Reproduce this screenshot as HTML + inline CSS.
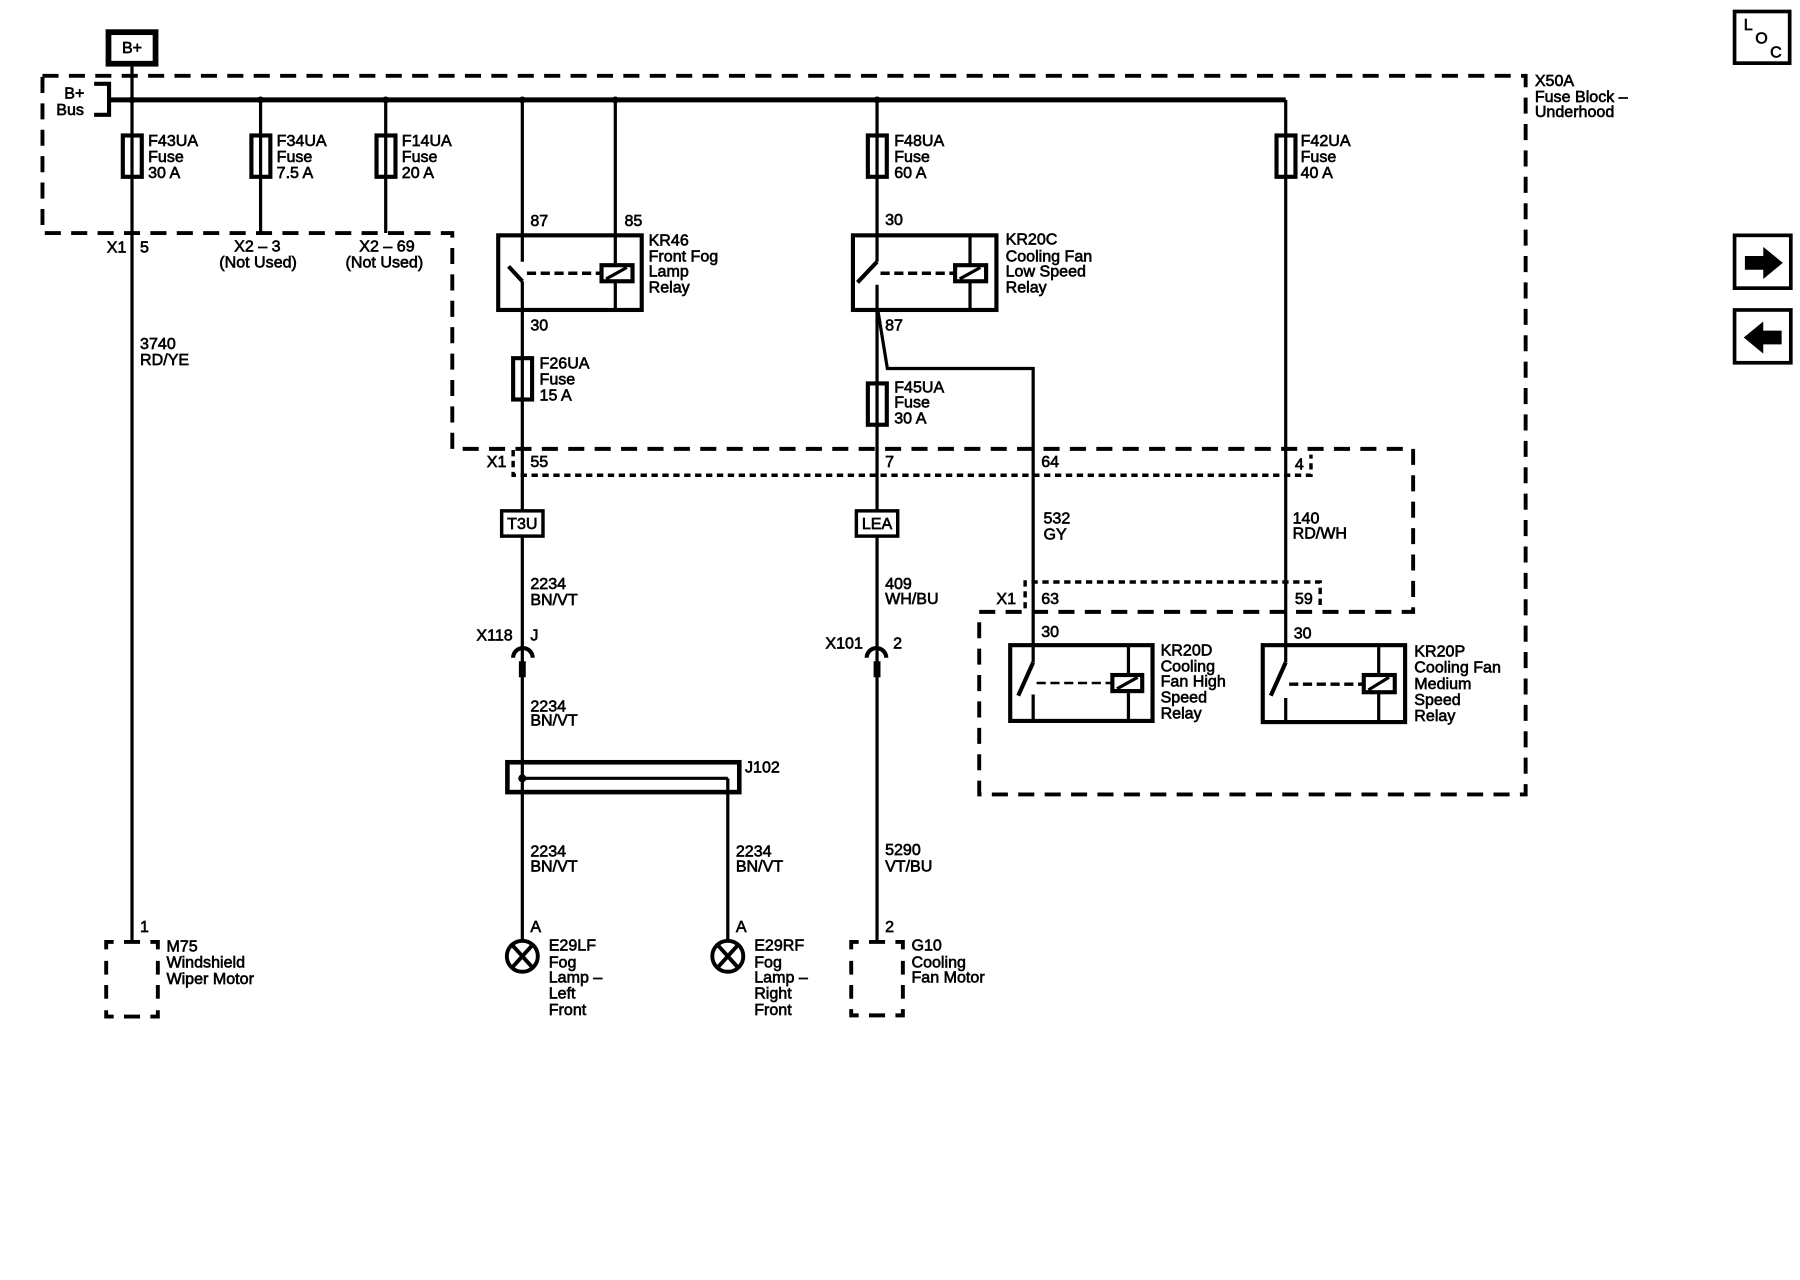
<!DOCTYPE html>
<html><head><meta charset="utf-8"><style>
html,body{margin:0;padding:0;background:#fff}
svg{display:block}
text{font-family:"Liberation Sans",sans-serif;font-size:14px;fill:#000;stroke:#000;stroke-width:.55px}
.c{text-anchor:middle}
.w{stroke:#000;stroke-width:2.8;fill:none}
.b{stroke:#000;stroke-width:3.6;fill:none}
.f{stroke:#000;stroke-width:3.6;fill:#fff}
.d{stroke:#000;stroke-width:3.4;fill:none;stroke-dasharray:14 9}
.s{stroke:#000;stroke-width:3;fill:none;stroke-dasharray:5.5 4}
.k{stroke:#000;stroke-width:3;fill:none;stroke-dasharray:8 4}
.m{stroke:#000;stroke-width:3.4;fill:none}
</style></head><body>
<svg width="1800" height="1280" viewBox="0 0 1568 1115" xmlns="http://www.w3.org/2000/svg">
<rect width="1568" height="1115" fill="#fff"/>
<!-- dashed enclosures -->
<path class="d" d="M37 66H1329V692H853V533H1231V391H394V203H37Z"/>
<path class="s" d="M447 392V414H1142V396"/>
<path class="s" d="M893 530V507H1150V530"/>
<path class="m" d="M99 820.5H92.5V827M92.5 837V849M92.5 858V870M92.5 880V885.5H99M108 885.5H122M131 885.5H137.5V880M137.5 870V858M137.5 849V837M137.5 827V820.5H131M108 820.5H122"/>
<path class="m" d="M748 820.5H741.5V827M741.5 837V849M741.5 858V870M741.5 879V884.5H748M757 884.5H771M780 884.5H786.5V879M786.5 870V858M786.5 849V837M786.5 827V820.5H780M757 820.5H771"/>
<!-- bus -->
<path d="M95 87H1120" stroke="#000" stroke-width="4.4"/>
<path class="b" d="M82 73H95V100H82"/>
<g fill="#000"><circle cx="115" cy="87" r="3"/><circle cx="227" cy="87" r="3"/><circle cx="336" cy="87" r="3"/><circle cx="455" cy="87" r="3"/><circle cx="536" cy="87" r="3"/><circle cx="764" cy="87" r="3"/></g>
<!-- wires -->
<path class="w" d="M115 58V820M227 87V203M336 87V203M455 87V228M455 245V820M536 87V270"/>
<path class="w" d="M764 87V228M764 248V820M845 205V270M634 678V820M455 678H634"/>
<path class="w" d="M765 272L773 321H900V577M900 605V628M983 562V628"/>
<path class="w" d="M1120 87V577M1120 608V629M1201 562V629"/>
<!-- switches -->
<path class="b" d="M443 232L455 245M764 228L747 246M900 577L887 606M1120 577L1107 606"/>
<path class="k" d="M459 238H524M767 238H832M1123 596H1188"/>
<path class="k" style="stroke-width:2.2" d="M903 595H969"/>
<!-- relays -->
<rect class="b" x="434" y="205" width="125" height="65"/>
<rect class="b" x="743" y="205" width="125" height="65"/>
<rect class="b" x="880" y="562" width="124" height="66"/>
<rect class="b" x="1100" y="562" width="124" height="67"/>
<g><rect class="f" x="524" y="231" width="27" height="14"/><path class="w" d="M528 243L546 233"/>
<rect class="f" x="832" y="231" width="27" height="14"/><path class="w" d="M836 243L854 233"/>
<rect class="f" x="969" y="588" width="26" height="14"/><path class="w" d="M973 600L991 590"/>
<rect class="f" x="1188" y="588" width="27" height="15"/><path class="w" d="M1192 601L1210 590"/></g>
<!-- fuses -->
<g fill="none" stroke="#000" stroke-width="3.6">
<rect x="107" y="118" width="16.5" height="36"/><rect x="219" y="118" width="16.5" height="36"/><rect x="328" y="118" width="16.5" height="36"/>
<rect x="756" y="118" width="16.5" height="36"/><rect x="1112" y="118" width="16.5" height="36"/>
<rect x="447" y="312" width="16.5" height="36"/><rect x="756" y="334" width="16.5" height="36"/>
</g>
<!-- B+ box -->
<rect x="94.5" y="28" width="41" height="27.5" fill="#fff" stroke="#000" stroke-width="5"/>
<!-- splice boxes -->
<rect x="437" y="445" width="36" height="22" fill="#fff" stroke="#000" stroke-width="3"/>
<rect x="746" y="445" width="36" height="22" fill="#fff" stroke="#000" stroke-width="3"/>
<!-- connectors -->
<path class="b" d="M447 573A8.5 8.5 0 0 1 464 573M755 573A8.5 8.5 0 0 1 772 573"/>
<path d="M455 576V590M764 576V590" stroke="#000" stroke-width="6"/>
<!-- J102 -->
<rect x="442" y="664" width="202" height="26" fill="none" stroke="#000" stroke-width="4"/>
<circle cx="455" cy="678" r="3.5" fill="#000"/>
<!-- lamps -->
<g fill="#fff" stroke="#000" stroke-width="3.4">
<circle cx="455" cy="833" r="13.5"/><path d="M446 823L464 843M464 823L446 843"/>
<circle cx="634" cy="833" r="13.5"/><path d="M625 823L643 843M643 823L625 843"/>
</g>
<!-- side buttons -->
<g fill="none" stroke="#000" stroke-width="3.2">
<rect x="1511" y="10" width="48" height="45"/><rect x="1511" y="205" width="49" height="46"/><rect x="1511" y="270" width="49" height="46"/>
</g>
<path d="M1520 223H1536V215L1553 229L1536 243V235H1520Z" fill="#000"/>
<path d="M1552 288H1536V280L1519 294L1536 308V300H1552Z" fill="#000"/>
<text x="1519" y="26">L</text><text x="1529" y="38">O</text><text x="1542" y="50">C</text>
<!-- labels -->
<text class="c" x="115" y="46">B+</text>
<text x="56" y="86">B+</text><text x="49" y="100">Bus</text>
<text x="129" y="127">F43UA</text><text x="129" y="141">Fuse</text><text x="129" y="155">30 A</text>
<text x="241" y="127">F34UA</text><text x="241" y="141">Fuse</text><text x="241" y="155">7.5 A</text>
<text x="350" y="127">F14UA</text><text x="350" y="141">Fuse</text><text x="350" y="155">20 A</text>
<text x="779" y="127">F48UA</text><text x="779" y="141">Fuse</text><text x="779" y="155">60 A</text>
<text x="1133" y="127">F42UA</text><text x="1133" y="141">Fuse</text><text x="1133" y="155">40 A</text>
<text x="1337" y="75">X50A</text><text x="1337" y="89">Fuse Block –</text><text x="1337" y="102">Underhood</text>
<text x="93" y="220">X1</text><text x="122" y="220">5</text>
<text x="204" y="219">X2 – 3</text><text x="191" y="233">(Not Used)</text>
<text x="313" y="219">X2 – 69</text><text x="301" y="233">(Not Used)</text>
<text x="122" y="304">3740</text><text x="122" y="318">RD/YE</text>
<text x="462" y="197">87</text><text x="544" y="197">85</text>
<text x="565" y="214">KR46</text><text x="565" y="228">Front Fog</text><text x="565" y="241">Lamp</text><text x="565" y="255">Relay</text>
<text x="771" y="196">30</text>
<text x="876" y="213">KR20C</text><text x="876" y="228">Cooling Fan</text><text x="876" y="241">Low Speed</text><text x="876" y="255">Relay</text>
<text x="462" y="288">30</text><text x="771" y="288">87</text>
<text x="470" y="321">F26UA</text><text x="470" y="335">Fuse</text><text x="470" y="349">15 A</text>
<text x="779" y="342">F45UA</text><text x="779" y="355">Fuse</text><text x="779" y="369">30 A</text>
<text x="424" y="407">X1</text><text x="462" y="407">55</text><text x="771" y="407">7</text><text x="907" y="407">64</text><text x="1128" y="409">4</text>
<text class="c" x="455" y="461">T3U</text><text class="c" x="764" y="461">LEA</text>
<text x="462" y="513">2234</text><text x="462" y="527">BN/VT</text>
<text x="771" y="513">409</text><text x="771" y="526">WH/BU</text>
<text x="909" y="456">532</text><text x="909" y="470">GY</text>
<text x="1126" y="456">140</text><text x="1126" y="469">RD/WH</text>
<text x="415" y="558">X118</text><text x="462" y="558">J</text>
<text x="719" y="565">X101</text><text x="778" y="565">2</text>
<text x="868" y="526">X1</text><text x="907" y="526">63</text><text x="1128" y="526">59</text>
<text x="907" y="555">30</text><text x="1127" y="556">30</text>
<text x="1011" y="571">KR20D</text><text x="1011" y="585">Cooling</text><text x="1011" y="598">Fan High</text><text x="1011" y="612">Speed</text><text x="1011" y="626">Relay</text>
<text x="1232" y="572">KR20P</text><text x="1232" y="586">Cooling Fan</text><text x="1232" y="600">Medium</text><text x="1232" y="614">Speed</text><text x="1232" y="628">Relay</text>
<text x="462" y="620">2234</text><text x="462" y="632">BN/VT</text>
<text x="649" y="673">J102</text>
<text x="462" y="746">2234</text><text x="462" y="759">BN/VT</text>
<text x="641" y="746">2234</text><text x="641" y="759">BN/VT</text>
<text x="771" y="745">5290</text><text x="771" y="759">VT/BU</text>
<text x="122" y="812">1</text>
<text x="145" y="829">M75</text><text x="145" y="843">Windshield</text><text x="145" y="857">Wiper Motor</text>
<text x="462" y="812">A</text>
<text x="478" y="828">E29LF</text><text x="478" y="843">Fog</text><text x="478" y="856">Lamp –</text><text x="478" y="870">Left</text><text x="478" y="884">Front</text>
<text x="641" y="812">A</text>
<text x="657" y="828">E29RF</text><text x="657" y="843">Fog</text><text x="657" y="856">Lamp –</text><text x="657" y="870">Right</text><text x="657" y="884">Front</text>
<text x="771" y="812">2</text>
<text x="794" y="828">G10</text><text x="794" y="843">Cooling</text><text x="794" y="856">Fan Motor</text>
</svg>
</body></html>
